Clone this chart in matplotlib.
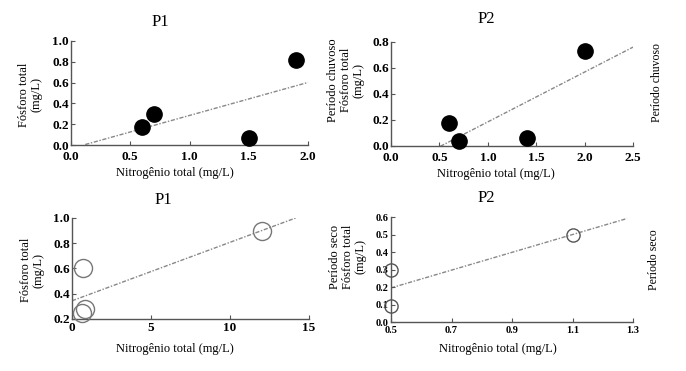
import numpy as np
import matplotlib
matplotlib.use('Agg')
import matplotlib.pyplot as plt

plt.rcParams['font.family'] = ['Liberation Serif', 'DejaVu Serif']

# periodo chuvoso
p1_chuv_n = [0.6, 0.7, 1.5, 1.9]
p1_chuv_p = [0.17, 0.30, 0.07, 0.82]
p2_chuv_n = [0.6, 0.7, 1.4, 2.0]
p2_chuv_p = [0.18, 0.04, 0.06, 0.73]
# periodo seco
p1_seco_n = [0.7, 0.6, 0.8, 12.0]
p1_seco_p = [0.60, 0.25, 0.28, 0.90]
p2_seco_n = [0.5, 0.5, 1.1]
p2_seco_p = [0.30, 0.09, 0.50]

xlabel = 'Nitrogênio total (mg/L)'

fig = plt.figure(figsize=(6.86, 3.71), dpi=100)

def make_ax(rect, xlim, ylim, xticks, yticks, xfmt, yfmt, tsize, xpad=2.5):
    ax = fig.add_axes(rect)
    ax.set_xlim(*xlim)
    ax.set_ylim(*ylim)
    for s in ['top', 'right']:
        ax.spines[s].set_visible(False)
    for s in ['left', 'bottom']:
        ax.spines[s].set_color('#555555')
        ax.spines[s].set_linewidth(1.0)
    ax.set_xticks(xticks)
    ax.set_yticks(yticks)
    ax.set_xticklabels([xfmt.format(v) for v in xticks], fontweight='bold', fontsize=tsize)
    ax.set_yticklabels([yfmt.format(v) for v in yticks], fontweight='bold', fontsize=tsize)
    ax.tick_params(axis='x', direction='in', length=3, width=0.8, color='#555555', pad=xpad)
    ax.tick_params(axis='y', direction='in', length=3, width=0.8, color='#555555', pad=1.5)
    return ax

def trend(ax, x, y, x0, x1):
    a, b = np.polyfit(x, y, 1)
    xs = np.array([x0, x1])
    ax.plot(xs, a * xs + b, linestyle='-.', color='#888888', lw=1.0, dashes=(3, 1.2, 1, 1.2), zorder=1)

# top-left
ax1 = make_ax([0.1035, 0.609, 0.3455, 0.2805], (0, 2.0), (0, 1.0),
              [0, 0.5, 1.0, 1.5, 2.0], [0, 0.2, 0.4, 0.6, 0.8, 1.0], '{:.1f}', '{:.1f}', 9.5, xpad=4)
trend(ax1, p1_chuv_n, p1_chuv_p, 0.12, 2.0)
ax1.plot(p1_chuv_n, p1_chuv_p, 'o', color='black', ms=11, clip_on=False, zorder=3)

# top-right
ax2 = make_ax([0.570, 0.6065, 0.3528, 0.2805], (0, 2.5), (0, 0.8),
              [0, 0.5, 1.0, 1.5, 2.0, 2.5], [0, 0.2, 0.4, 0.6, 0.8], '{:.1f}', '{:.1f}', 9.5, xpad=4)
trend(ax2, p2_chuv_n, p2_chuv_p, 0.51, 2.5)
ax2.plot(p2_chuv_n, p2_chuv_p, 'o', color='black', ms=11, clip_on=False, zorder=3)

# bottom-left
ax3 = make_ax([0.105, 0.1402, 0.3455, 0.2722], (0, 15), (0.2, 1.0),
              [0, 5, 10, 15], [0.2, 0.4, 0.6, 0.8, 1.0], '{:.0f}', '{:.1f}', 9.5)
trend(ax3, p1_seco_n, p1_seco_p, 0.0, 14.3)
ax3.plot(p1_seco_n, p1_seco_p, 'o', mfc='none', mec='#777777', mew=1.0, ms=13, clip_on=False, zorder=3)

# bottom-right
ax4 = make_ax([0.570, 0.132, 0.3528, 0.283], (0.5, 1.3), (0, 0.6),
              [0.5, 0.7, 0.9, 1.1, 1.3], [0, 0.1, 0.2, 0.3, 0.4, 0.5, 0.6], '{:.1f}', '{:.1f}', 7.5)
trend(ax4, p2_seco_n, p2_seco_p, 0.5, 1.28)
ax4.plot(p2_seco_n, p2_seco_p, 'o', mfc='none', mec='#555555', mew=1.0, ms=9.5, clip_on=False, zorder=3)

# titles
fig.text(160 / 686, 1 - 22 / 371, 'P1', ha='center', va='center', fontsize=12)
fig.text(486 / 686, 1 - 19 / 371, 'P2', ha='center', va='center', fontsize=12)
fig.text(163 / 686, 1 - 200 / 371, 'P1', ha='center', va='center', fontsize=12)
fig.text(486 / 686, 1 - 198 / 371, 'P2', ha='center', va='center', fontsize=12)

# x labels
for x, y in [(175, 173), (496, 174), (175, 349), (498, 349)]:
    fig.text(x / 686, 1 - y / 371, xlabel, ha='center', va='center', fontsize=9)

# left y labels
fig.text(30 / 686, 1 - 95 / 371, 'Fósforo total\n(mg/L)', rotation=90,
         ha='center', va='center', fontsize=9, linespacing=1.1)
fig.text(32 / 686, 1 - 270 / 371, 'Fósforo total\n(mg/L)', rotation=90,
         ha='center', va='center', fontsize=9, linespacing=1.1)

# middle y labels
fig.text(346 / 686, 1 - 80 / 371, 'Período chuvoso\nFósforo total\n(mg/L)', rotation=90,
         ha='center', va='center', fontsize=9, linespacing=1.1)
fig.text(348 / 686, 1 - 257 / 371, 'Período seco\nFósforo total\n(mg/L)', rotation=90,
         ha='center', va='center', fontsize=9, linespacing=1.1)

# far right labels
fig.text(657 / 686, 1 - 83 / 371, 'Período chuvoso', rotation=90,
         ha='center', va='center', fontsize=8.5)
fig.text(654 / 686, 1 - 260 / 371, 'Período seco', rotation=90,
         ha='center', va='center', fontsize=8.5)

fig.savefig('out.png', dpi=100)
